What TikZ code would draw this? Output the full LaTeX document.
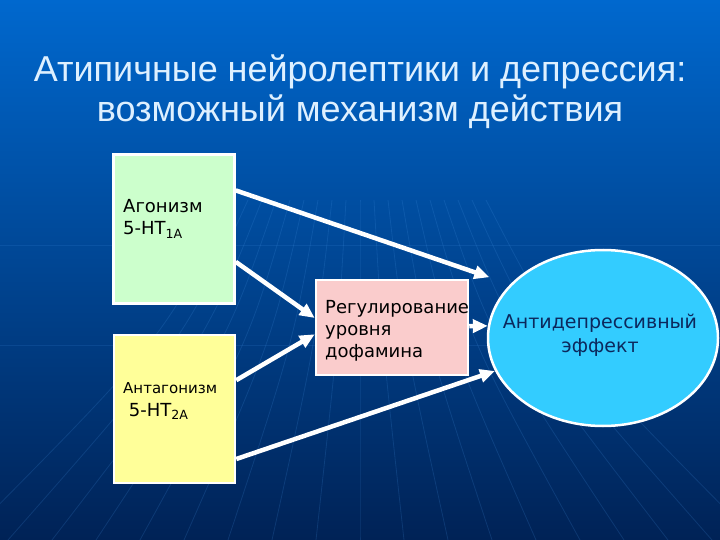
\documentclass[tikz,border=0pt]{standalone}
\usepackage{fontspec}
\setmainfont{Liberation Sans}
\newfontfamily\boxfont{DejaVu Sans}
\usetikzlibrary{shapes.geometric,arrows.meta}
\definecolor{bgtop}{RGB}{0,104,206}
\definecolor{bgmid}{RGB}{0,66,148}
\definecolor{bgbot}{RGB}{0,34,86}
\definecolor{gridcol}{RGB}{70,150,230}
\definecolor{titlecol}{RGB}{222,240,255}
\definecolor{agogreen}{RGB}{204,255,204}
\definecolor{antyellow}{RGB}{255,255,153}
\definecolor{regpink}{RGB}{250,204,204}
\definecolor{effblue}{RGB}{51,204,255}
\definecolor{efftext}{RGB}{12,40,92}
\begin{document}
\begin{tikzpicture}[x=1pt,y=-1pt,
  card/.style={draw=white, line width=2.5pt, inner sep=0pt},
  link/.style={draw=white, line width=4.5pt, -{Triangle[length=15pt,width=13pt]}},
  cardtext/.style={anchor=west, align=left, inner sep=0pt, text=black, font=\boxfont\fontsize{18}{22}\selectfont}
]
\shade[top color=bgtop, middle color=bgmid, bottom color=bgbot] (0,0) rectangle (720,540);
\useasboundingbox (0,0) rectangle (720,540);
\foreach \i in {-9,...,9}
  \draw[gridcol, opacity=0.18, line width=0.8pt] (360+\i*14,200) .. controls (360+\i*22,340) .. (360+\i*44,540);
\draw[gridcol, opacity=0.15, line width=0.8pt] (0,245) -- (720,245);
\draw[gridcol, opacity=0.15, line width=0.8pt] (0,345) -- (720,345);

\node[align=center, text=titlecol, font=\fontsize{36}{40}\selectfont] (title) at (360,92) {Атипичные нейролептики и депрессия:\\возможный механизм действия};

\node[card, fill=agogreen, minimum width=121pt, minimum height=149pt] (ago) at (174,229) {};
\node[card, fill=antyellow, minimum width=121pt, minimum height=148pt] (ant) at (174.5,409) {};
\node[card, fill=regpink, minimum width=152pt, minimum height=95pt] (reg) at (392,327.5) {};
\node[card, ellipse, fill=effblue, minimum width=230pt, minimum height=176pt] (eff) at (603,338) {};

\node[cardtext] (agotext) at (123,219) {Агонизм\\5-HT\textsubscript{1A}};
\node[cardtext, font=\boxfont\fontsize{15}{22}\selectfont] (anttext) at (123,401) {Антагонизм\\[1pt]\fontsize{18}{22}\selectfont\ 5-HT\textsubscript{2A}};
\node[cardtext] (regtext) at (325,331) {Регулирование\\уровня\\дофамина};
\node[align=center, inner sep=0pt, text=efftext, font=\boxfont\fontsize{19}{24}\selectfont] (efftext) at (600,335) {Антидепрессивный\\эффект};

\draw[link, shorten >=22pt] (ago.32.6) -- (eff.150);
\draw[link] (ago.-28.4) -- (reg.173);
\draw[link] (ant.25.6) -- (reg.185.4);
\draw[link] (ant.-39) -- (eff.197);
\draw[link] (reg.1.1) -- (eff.174);
\end{tikzpicture}
\end{document}
